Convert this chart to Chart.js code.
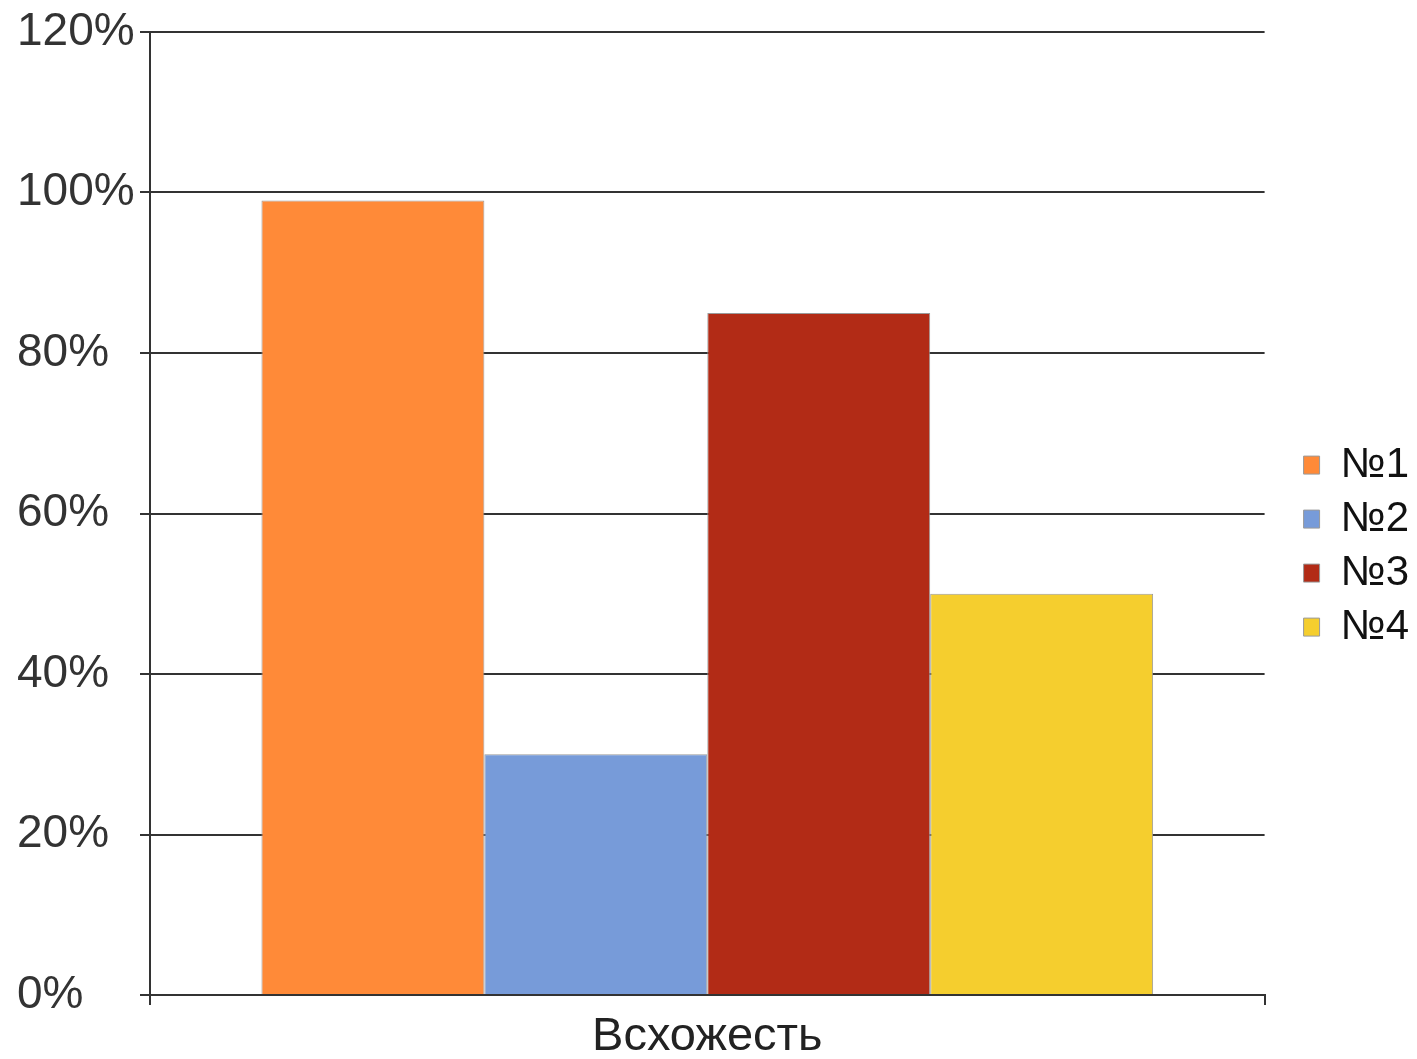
<!DOCTYPE html>
<html>
<head>
<meta charset="utf-8">
<script src="https://cdn.jsdelivr.net/npm/chart.js@4"></script>
<style>
  html, body { margin: 0; padding: 0; background: #fff; }
  #wrap { width: 1417px; height: 1059px; }
</style>
</head>
<body>
<div id="wrap"><canvas id="chart"></canvas></div>
<script>
const categories = ["Всхожесть"];
const seriesNames = ["№1", "№2", "№3", "№4"];
const seriesValues = [[99], [30], [85], [50]];
const seriesColors = ["#FF8A38", "#779BD9", "#B22B16", "#F5CE2E"];
const yTicks = [0, 20, 40, 60, 80, 100, 120];

const FONT = "'Liberation Sans', Arial, sans-serif";

new Chart(document.getElementById("chart"), {
  type: "bar",
  data: {
    labels: categories,
    datasets: seriesNames.map((name, i) => ({
      label: name,
      data: seriesValues[i],
      backgroundColor: seriesColors[i],
      borderColor: "#9a9a9a",
      borderWidth: 1,
      barPercentage: 1,
      categoryPercentage: 0.8,
    })),
  },
  options: {
    responsive: true,
    maintainAspectRatio: false,
    animation: false,
    layout: { padding: { top: 32, right: -2, left: 17, bottom: 0 } },
    plugins: {
      tooltip: { enabled: false },
      legend: {
        position: "right",
        // empty title only nudges the items down a little
        title: { display: true, text: "", font: { size: 1 }, padding: { top: 0, bottom: 0 } },
        labels: {
          boxWidth: 16,
          boxHeight: 18,
          padding: 12,
          color: "#111",
          font: { family: FONT, size: 42 },
        },
      },
    },
    scales: {
      x: {
        afterFit(scale) {
          scale.height = 64;
        },
        grid: {
          display: true,
          drawOnChartArea: false,
          offset: true,
          tickLength: 10,
          color: "#333",
          lineWidth: 2,
        },
        border: { display: true, color: "#333", width: 2 },
        ticks: { color: "#222", font: { family: FONT, size: 47 }, padding: 4 },
      },
      y: {
        min: 0,
        max: 120,
        afterBuildTicks(axis) {
          axis.ticks = yTicks.map((v) => ({ value: v }));
        },
        afterFit(scale) {
          scale.width = 133;
          scale.paddingTop = 0;
          scale.paddingBottom = 0;
        },
        grid: { color: "#333", lineWidth: 2, tickLength: 10 },
        border: { display: true, color: "#333", width: 2 },
        ticks: {
          crossAlign: "far",
          color: "#333",
          padding: 7,
          font: { family: FONT, size: 46 },
          callback: (v) => v + "%",
        },
      },
      // empty spacer between the plot and the legend
      gap: {
        position: "right",
        display: true,
        grid: { display: false },
        border: { display: false },
        ticks: { display: false },
        afterFit(scale) {
          scale.width = 27;
        },
      },
    },
  },
});
</script>
</body>
</html>
